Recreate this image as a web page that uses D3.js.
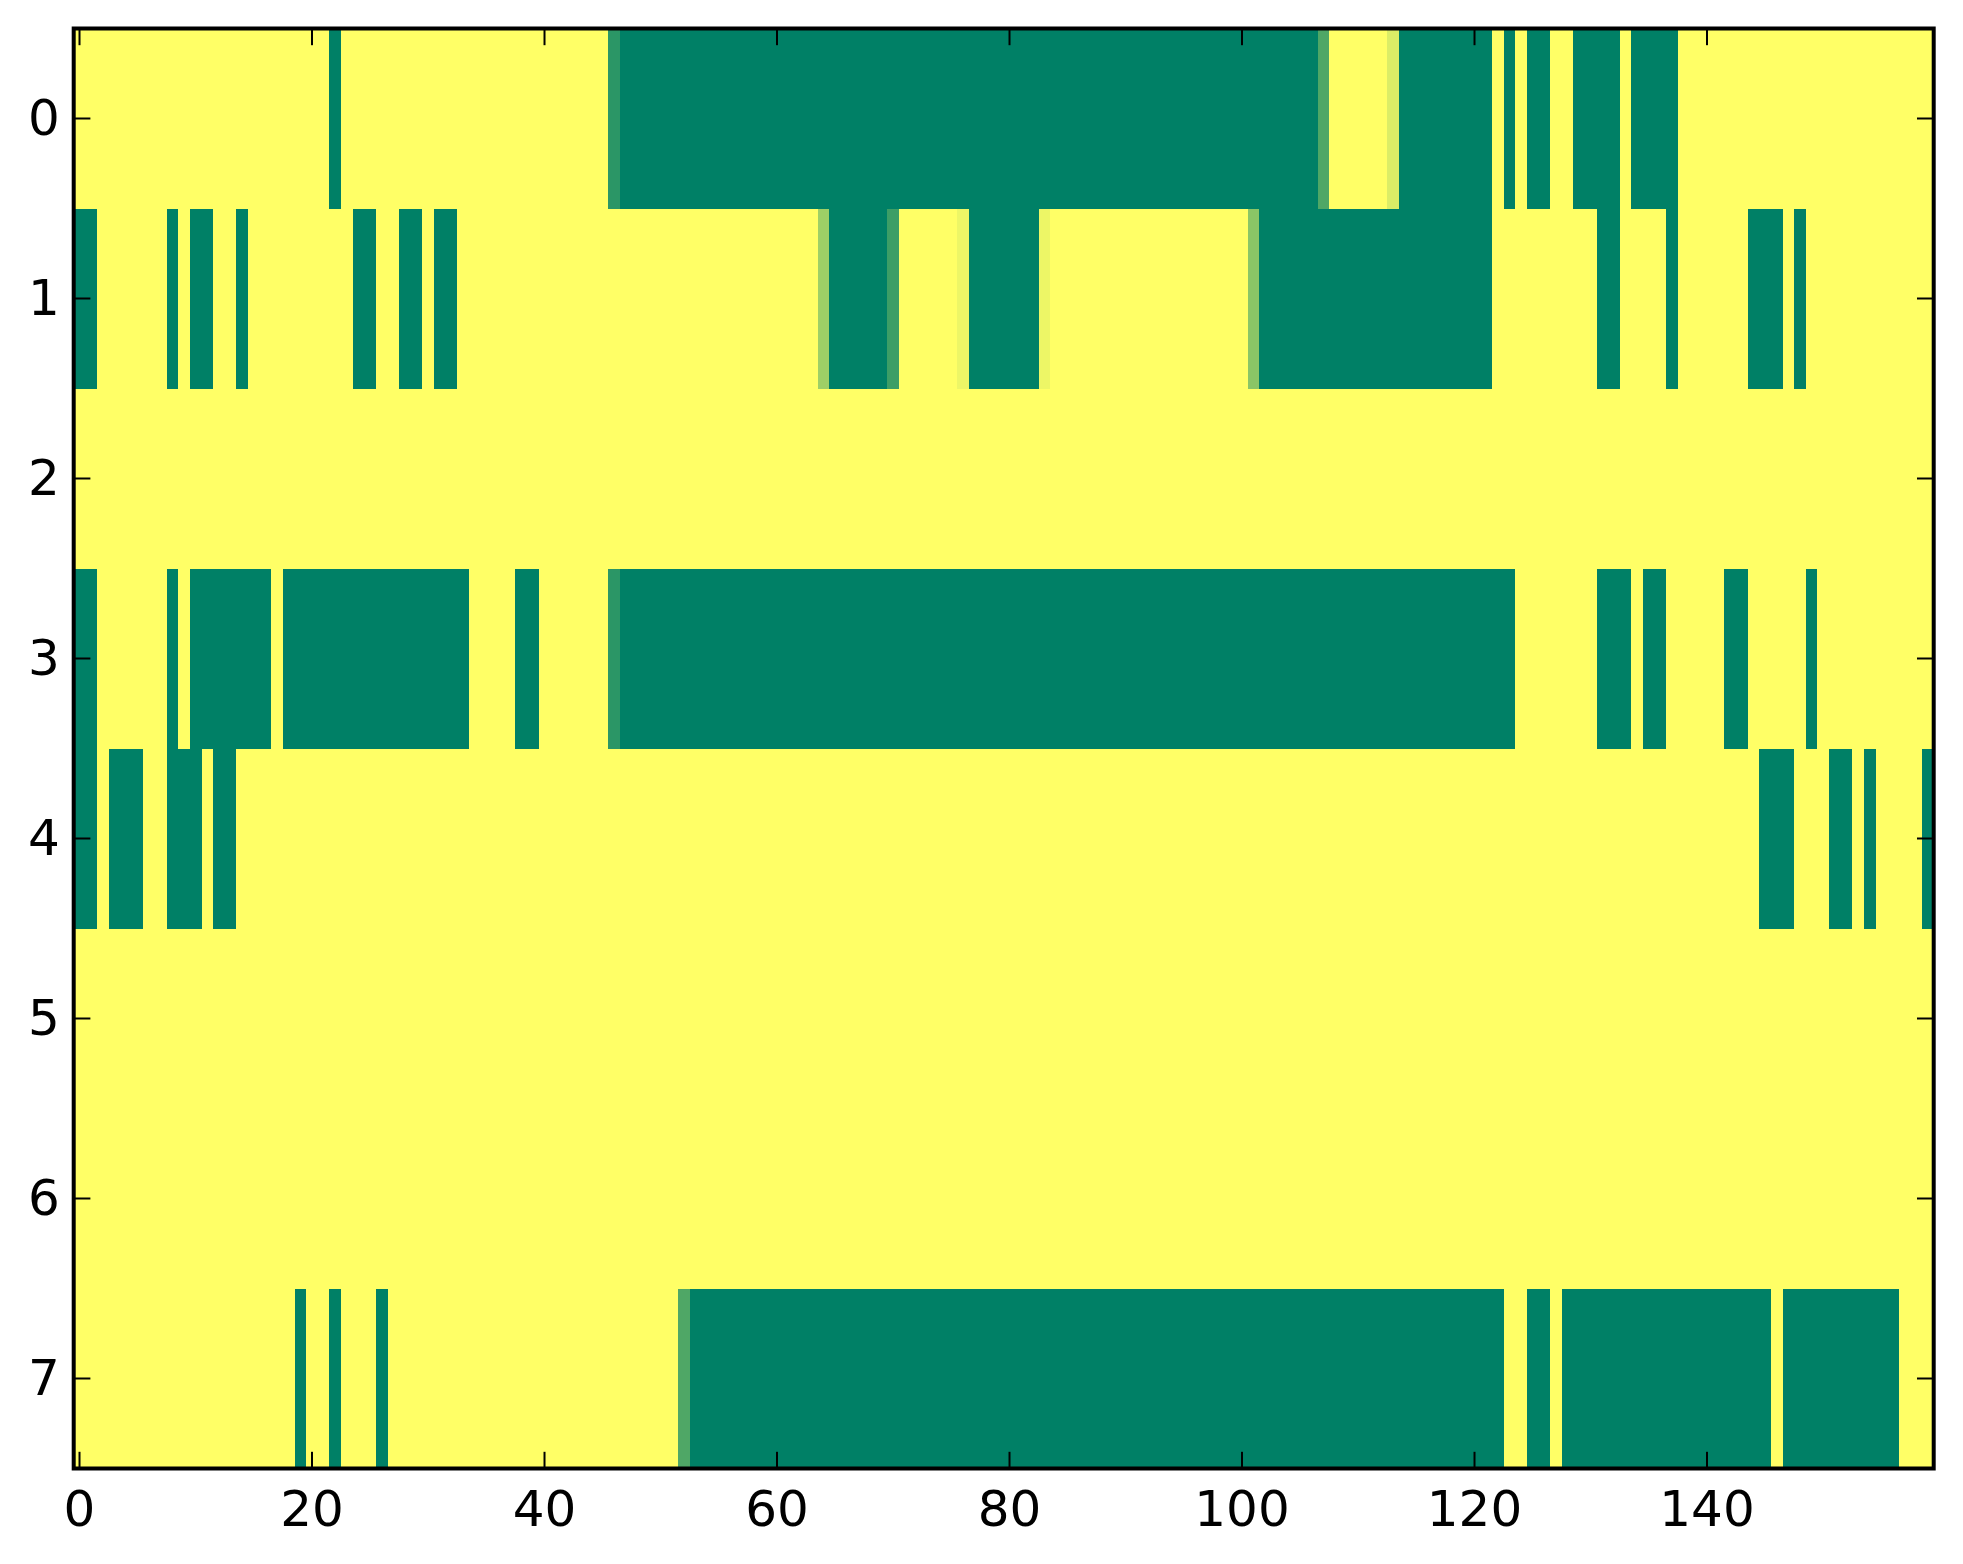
<!DOCTYPE html>
<html>
<head>
<meta charset="utf-8">
<script src="https://cdn.jsdelivr.net/npm/d3@7"></script>
<style>
  body { margin: 0; background: #fff; }
  svg { display: block; }
</style>
</head>
<body>
<div id="chart"></div>
<script>
// ---- data: one array per image row, 160 columns, values in [0, 1] ----
const row0 = [
  1,1,1,1,1,1,1,1,1,1,1,1,1,1,1,1,1,1,1,1,
  1,1,0,1,1,1,1,1,1,1,1,1,1,1,1,1,1,1,1,1,
  1,1,1,1,1,1,0.17,0,0,0,0,0,0,0,0,0,0,0,0,0,
  0,0,0,0,0,0,0,0,0,0,0,0,0,0,0,0,0,0,0,0,
  0,0,0,0,0,0,0,0,0,0,0,0,0,0,0,0,0,0,0,0,
  0,0,0,0,0,0,0,0.31,1,1,1,1,1,0.86,0,0,0,0,0,0,
  0,0,1,0,1,0,0,1,1,0,0,0,0,1,0,0,0,0,1,1,
  1,1,1,1,1,1,1,1,1,1,1,1,1,1,1,1,1,1,1,1
];
const row1 = [
  0,0,1,1,1,1,1,1,0,1,0,0,1,1,0,1,1,1,1,1,
  1,1,1,1,0,0,1,1,0,0,1,0,0,1,1,1,1,1,1,1,
  1,1,1,1,1,1,1,1,1,1,1,1,1,1,1,1,1,1,1,1,
  1,1,1,1,0.62,0,0,0,0,0,0.24,1,1,1,1,1,0.93,0,0,0,
  0,0,0,0.93,1,1,1,1,1,1,1,1,1,1,1,1,1,1,1,1,
  1,0.54,0,0,0,0,0,0,0,0,0,0,0,0,0,0,0,0,0,0,
  0,0,1,1,1,1,1,1,1,1,1,0,0,1,1,1,1,0,1,1,
  1,1,1,1,0,0,0,1,0,1,1,1,1,1,1,1,1,1,1,1
];
const row2 = [
  1,1,1,1,1,1,1,1,1,1,1,1,1,1,1,1,1,1,1,1,
  1,1,1,1,1,1,1,1,1,1,1,1,1,1,1,1,1,1,1,1,
  1,1,1,1,1,1,1,1,1,1,1,1,1,1,1,1,1,1,1,1,
  1,1,1,1,1,1,1,1,1,1,1,1,1,1,1,1,1,1,1,1,
  1,1,1,1,1,1,1,1,1,1,1,1,1,1,1,1,1,1,1,1,
  1,1,1,1,1,1,1,1,1,1,1,1,1,1,1,1,1,1,1,1,
  1,1,1,1,1,1,1,1,1,1,1,1,1,1,1,1,1,1,1,1,
  1,1,1,1,1,1,1,1,1,1,1,1,1,1,1,1,1,1,1,1
];
const row3 = [
  0,0,1,1,1,1,1,1,0,1,0,0,0,0,0,0,0,1,0,0,
  0,0,0,0,0,0,0,0,0,0,0,0,0,0,1,1,1,1,0,0,
  1,1,1,1,1,1,0.17,0,0,0,0,0,0,0,0,0,0,0,0,0,
  0,0,0,0,0,0,0,0,0,0,0,0,0,0,0,0,0,0,0,0,
  0,0,0,0,0,0,0,0,0,0,0,0,0,0,0,0,0,0,0,0,
  0,0,0,0,0,0,0,0,0,0,0,0,0,0,0,0,0,0,0,0,
  0,0,0,0,1,1,1,1,1,1,1,0,0,0,1,0,0,1,1,1,
  1,1,0,0,1,1,1,1,1,0,1,1,1,1,1,1,1,1,1,1
];
const row4 = [
  0,0,1,0,0,0,1,1,0,0,0,1,0,0,1,1,1,1,1,1,
  1,1,1,1,1,1,1,1,1,1,1,1,1,1,1,1,1,1,1,1,
  1,1,1,1,1,1,1,1,1,1,1,1,1,1,1,1,1,1,1,1,
  1,1,1,1,1,1,1,1,1,1,1,1,1,1,1,1,1,1,1,1,
  1,1,1,1,1,1,1,1,1,1,1,1,1,1,1,1,1,1,1,1,
  1,1,1,1,1,1,1,1,1,1,1,1,1,1,1,1,1,1,1,1,
  1,1,1,1,1,1,1,1,1,1,1,1,1,1,1,1,1,1,1,1,
  1,1,1,1,1,0,0,0,1,1,1,0,0,1,0,1,1,1,1,0
];
const row5 = [
  1,1,1,1,1,1,1,1,1,1,1,1,1,1,1,1,1,1,1,1,
  1,1,1,1,1,1,1,1,1,1,1,1,1,1,1,1,1,1,1,1,
  1,1,1,1,1,1,1,1,1,1,1,1,1,1,1,1,1,1,1,1,
  1,1,1,1,1,1,1,1,1,1,1,1,1,1,1,1,1,1,1,1,
  1,1,1,1,1,1,1,1,1,1,1,1,1,1,1,1,1,1,1,1,
  1,1,1,1,1,1,1,1,1,1,1,1,1,1,1,1,1,1,1,1,
  1,1,1,1,1,1,1,1,1,1,1,1,1,1,1,1,1,1,1,1,
  1,1,1,1,1,1,1,1,1,1,1,1,1,1,1,1,1,1,1,1
];
const row6 = [
  1,1,1,1,1,1,1,1,1,1,1,1,1,1,1,1,1,1,1,1,
  1,1,1,1,1,1,1,1,1,1,1,1,1,1,1,1,1,1,1,1,
  1,1,1,1,1,1,1,1,1,1,1,1,1,1,1,1,1,1,1,1,
  1,1,1,1,1,1,1,1,1,1,1,1,1,1,1,1,1,1,1,1,
  1,1,1,1,1,1,1,1,1,1,1,1,1,1,1,1,1,1,1,1,
  1,1,1,1,1,1,1,1,1,1,1,1,1,1,1,1,1,1,1,1,
  1,1,1,1,1,1,1,1,1,1,1,1,1,1,1,1,1,1,1,1,
  1,1,1,1,1,1,1,1,1,1,1,1,1,1,1,1,1,1,1,1
];
const row7 = [
  1,1,1,1,1,1,1,1,1,1,1,1,1,1,1,1,1,1,1,0,
  1,1,0,1,1,1,0,1,1,1,1,1,1,1,1,1,1,1,1,1,
  1,1,1,1,1,1,1,1,1,1,1,1,0.31,0,0,0,0,0,0,0,
  0,0,0,0,0,0,0,0,0,0,0,0,0,0,0,0,0,0,0,0,
  0,0,0,0,0,0,0,0,0,0,0,0,0,0,0,0,0,0,0,0,
  0,0,0,0,0,0,0,0,0,0,0,0,0,0,0,0,0,0,0,0,
  0,0,0,1,1,0,0,1,0,0,0,0,0,0,0,0,0,0,0,0,
  0,0,0,0,0,0,1,0,0,0,0,0,0,0,0,0,0,1,1,1
];
const rows = [row0, row1, row2, row3, row4, row5, row6, row7];
const xTicks = [0, 20, 40, 60, 80, 100, 120, 140];
const yTicks = [0, 1, 2, 3, 4, 5, 6, 7];

// ---- layout ----
const width = 1963;
const height = 1564;
const marginLeft = 73.7;
const marginRight = width - 1933.7;
const marginTop = 28.5;
const marginBottom = height - 1468.5;
const tickLen = 16.7;
const fontSize = 50;

const cells = [];
rows.forEach((r, i) => r.forEach((v, j) => cells.push({ row: i, col: j, value: v })));

const xScale = d3
  .scaleBand()
  .domain(d3.range(rows[0].length))
  .range([marginLeft, width - marginRight]);
const yScale = d3
  .scaleBand()
  .domain(d3.range(rows.length))
  .range([marginTop, height - marginBottom]);

// matplotlib "summer": green (0) -> yellow (1)
const color = d3.scaleLinear().domain([0, 1]).range(["#008066", "#ffff66"]);

const svg = d3
  .select("#chart")
  .append("svg")
  .attr("width", width)
  .attr("height", height);

svg
  .append("g")
  .attr("shape-rendering", "crispEdges")
  .selectAll("rect")
  .data(cells)
  .join("rect")
  .attr("x", (d) => xScale(d.col))
  .attr("y", (d) => yScale(d.row))
  .attr("width", xScale.bandwidth() + 0.5)
  .attr("height", yScale.bandwidth() + 0.5)
  .attr("fill", (d) => color(d.value));

// axes, ticks pointing inward (classic matplotlib look)
const styleAxis = (g) => {
  g.attr("font-family", "'DejaVu Sans'").attr("font-size", fontSize);
  g.select(".domain").remove();
  g.selectAll(".tick line").attr("stroke", "#000").attr("stroke-width", 2);
  g.selectAll(".tick text").attr("fill", "#000");
};

svg
  .append("g")
  .attr("transform", `translate(0,${height - marginBottom})`)
  .call(d3.axisBottom(xScale).tickValues(xTicks).tickSize(-tickLen).tickPadding(22))
  .call(styleAxis);

svg
  .append("g")
  .attr("transform", `translate(0,${marginTop})`)
  .call(d3.axisTop(xScale).tickValues(xTicks).tickSize(-tickLen).tickFormat(""))
  .call(styleAxis);

svg
  .append("g")
  .attr("transform", `translate(${marginLeft},0)`)
  .call(d3.axisLeft(yScale).tickValues(yTicks).tickSize(-tickLen).tickPadding(14))
  .call(styleAxis);

svg
  .append("g")
  .attr("transform", `translate(${width - marginRight},0)`)
  .call(d3.axisRight(yScale).tickValues(yTicks).tickSize(-tickLen).tickFormat(""))
  .call(styleAxis);

// frame
svg
  .append("rect")
  .attr("x", marginLeft)
  .attr("y", marginTop)
  .attr("width", width - marginLeft - marginRight)
  .attr("height", height - marginTop - marginBottom)
  .attr("fill", "none")
  .attr("stroke", "#000")
  .attr("stroke-width", 4);
</script>
</body>
</html>
